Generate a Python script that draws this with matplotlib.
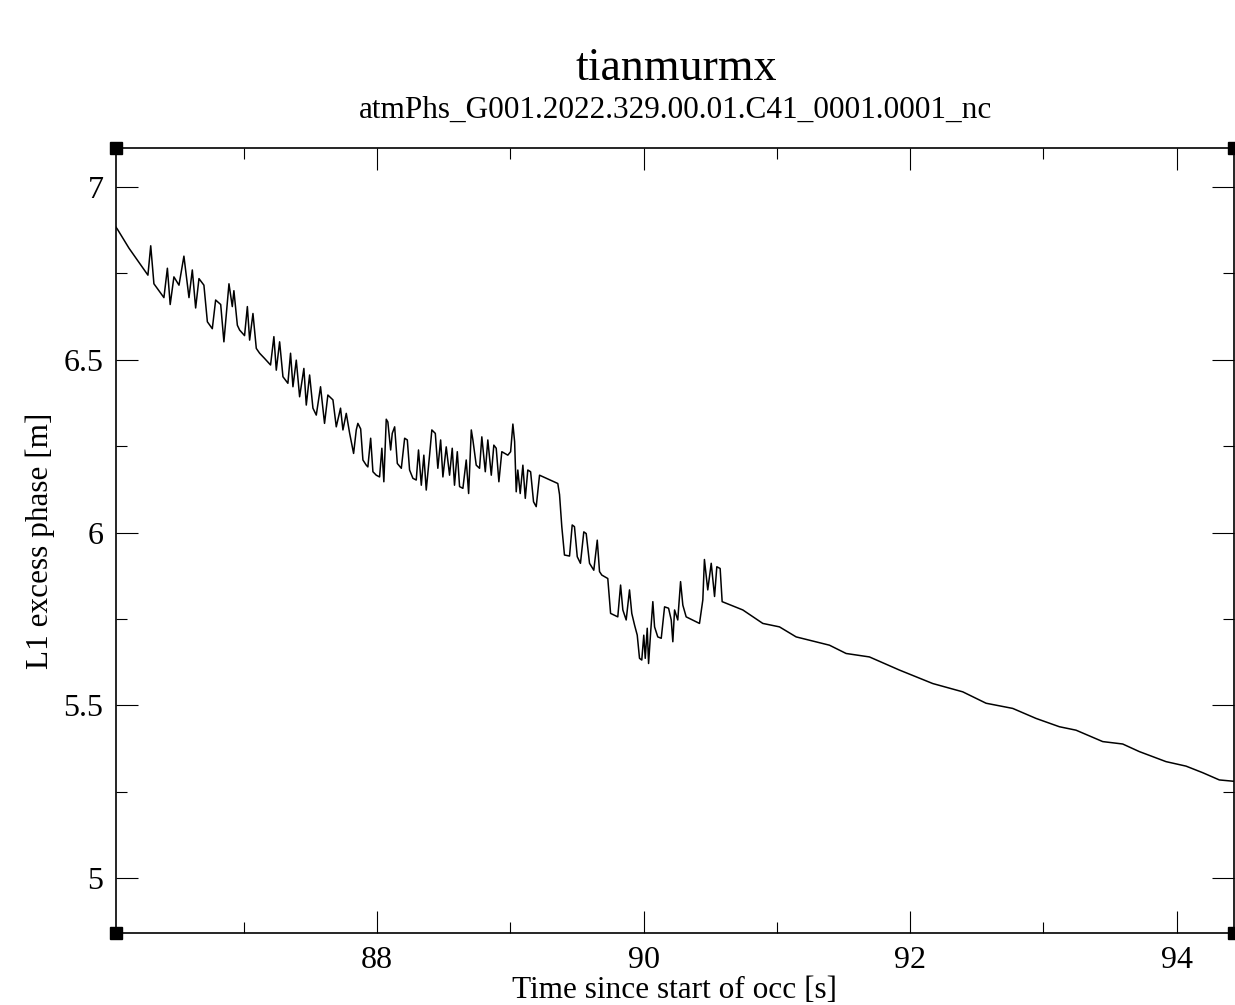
import matplotlib
matplotlib.use("Agg")
import matplotlib.pyplot as plt
from matplotlib.ticker import MultipleLocator

plt.rcParams['font.family'] = ['Liberation Serif', 'DejaVu Serif']

title = "tianmurmx"
subtitle = "atmPhs_G001.2022.329.00.01.C41_0001.0001_nc"
xlabel = "Time since start of occ [s]"
ylabel = "L1 excess phase [m]"

time_s = [
    86.040, 86.053, 86.140, 86.282, 86.303, 86.327, 86.402, 86.428, 86.449, 86.477,
    86.515, 86.552, 86.590, 86.615, 86.640, 86.665, 86.702, 86.728, 86.765, 86.790,
    86.828, 86.852, 86.890, 86.915, 86.927, 86.953, 86.970, 87.007, 87.028, 87.045,
    87.070, 87.095, 87.120, 87.157, 87.202, 87.227, 87.245, 87.270, 87.295, 87.332,
    87.352, 87.370, 87.395, 87.420, 87.452, 87.470, 87.495, 87.520, 87.545, 87.577,
    87.607, 87.632, 87.670, 87.695, 87.727, 87.745, 87.770, 87.795, 87.825, 87.845,
    87.857, 87.878, 87.895, 87.920, 87.932, 87.953, 87.970, 87.995, 88.020, 88.037,
    88.052, 88.070, 88.082, 88.103, 88.115, 88.133, 88.153, 88.183, 88.208, 88.228,
    88.245, 88.270, 88.295, 88.312, 88.333, 88.352, 88.370, 88.395, 88.412, 88.438,
    88.457, 88.478, 88.495, 88.520, 88.545, 88.565, 88.582, 88.603, 88.620, 88.645,
    88.670, 88.688, 88.708, 88.720, 88.745, 88.770, 88.787, 88.813, 88.832, 88.858,
    88.877, 88.895, 88.915, 88.937, 88.982, 89.003, 89.020, 89.033, 89.045, 89.057,
    89.075, 89.095, 89.113, 89.132, 89.153, 89.175, 89.195, 89.220, 89.357, 89.370,
    89.387, 89.407, 89.445, 89.465, 89.482, 89.503, 89.527, 89.552, 89.570, 89.595,
    89.627, 89.653, 89.670, 89.687, 89.732, 89.753, 89.807, 89.828, 89.845, 89.870,
    89.895, 89.912, 89.933, 89.953, 89.970, 89.987, 90.002, 90.013, 90.028, 90.038,
    90.053, 90.070, 90.083, 90.107, 90.133, 90.158, 90.188, 90.208, 90.220, 90.233,
    90.257, 90.278, 90.295, 90.320, 90.420, 90.445, 90.457, 90.482, 90.508, 90.533,
    90.550, 90.575, 90.590, 90.745, 90.895, 91.020, 91.145, 91.395, 91.520, 91.695,
    91.920, 92.170, 92.395, 92.570, 92.770, 92.945, 93.120, 93.245, 93.445, 93.595,
    93.720, 93.920, 94.070, 94.195, 94.320, 94.432,
]

phase_m = [
    6.885, 6.878, 6.823, 6.745, 6.830, 6.720, 6.680, 6.765, 6.660, 6.740,
    6.716, 6.800, 6.680, 6.760, 6.650, 6.735, 6.716, 6.610, 6.590, 6.673,
    6.660, 6.552, 6.720, 6.654, 6.700, 6.600, 6.586, 6.570, 6.654, 6.557,
    6.634, 6.533, 6.519, 6.504, 6.485, 6.567, 6.470, 6.552, 6.451, 6.432,
    6.519, 6.422, 6.499, 6.393, 6.475, 6.369, 6.456, 6.360, 6.340, 6.422,
    6.316, 6.398, 6.384, 6.306, 6.360, 6.297, 6.345, 6.288, 6.229, 6.297,
    6.316, 6.300, 6.210, 6.195, 6.190, 6.273, 6.176, 6.166, 6.161, 6.244,
    6.147, 6.328, 6.320, 6.239, 6.287, 6.306, 6.200, 6.186, 6.273, 6.268,
    6.181, 6.157, 6.152, 6.239, 6.137, 6.224, 6.123, 6.224, 6.297, 6.287,
    6.186, 6.268, 6.161, 6.248, 6.166, 6.244, 6.137, 6.234, 6.133, 6.128,
    6.210, 6.113, 6.297, 6.268, 6.195, 6.186, 6.277, 6.176, 6.268, 6.166,
    6.253, 6.244, 6.147, 6.234, 6.224, 6.234, 6.314, 6.263, 6.118, 6.181,
    6.113, 6.195, 6.099, 6.181, 6.176, 6.089, 6.075, 6.166, 6.142, 6.110,
    6.017, 5.935, 5.932, 6.022, 6.017, 5.930, 5.911, 6.002, 5.997, 5.911,
    5.891, 5.978, 5.887, 5.877, 5.867, 5.766, 5.756, 5.848, 5.776, 5.747,
    5.834, 5.766, 5.732, 5.703, 5.636, 5.631, 5.703, 5.636, 5.723, 5.621,
    5.708, 5.800, 5.727, 5.698, 5.694, 5.785, 5.781, 5.747, 5.684, 5.776,
    5.747, 5.858, 5.790, 5.756, 5.737, 5.805, 5.922, 5.834, 5.911, 5.815,
    5.901, 5.896, 5.800, 5.776, 5.737, 5.727, 5.698, 5.674, 5.650, 5.640,
    5.602, 5.563, 5.539, 5.506, 5.491, 5.462, 5.438, 5.428, 5.395, 5.388,
    5.366, 5.337, 5.324, 5.305, 5.284, 5.280,
]

fig = plt.figure(figsize=(12.35, 10.05), dpi=100)
ax = fig.add_axes([116 / 1235, 1 - 933 / 1005, (1234 - 116) / 1235, (933 - 148) / 1005])

ax.plot(time_s, phase_m, color='black', linewidth=1.1)

ax.set_xlim(86.0425, 94.43)
ax.set_ylim(4.841, 7.113)

ax.xaxis.set_major_locator(MultipleLocator(2))
ax.xaxis.set_minor_locator(MultipleLocator(1))
ax.yaxis.set_major_locator(MultipleLocator(0.5))
ax.yaxis.set_minor_locator(MultipleLocator(0.25))

ax.tick_params(which='both', direction='in', top=True, right=True, width=0.8, color='black')
ax.tick_params(which='major', length=16, labelsize=23, pad=9)
ax.tick_params(which='minor', length=8)
ax.set_yticks([5, 5.5, 6, 6.5, 7])
ax.set_yticklabels(['5', '5.5', '6', '6.5', '7'])

for s in ax.spines.values():
    s.set_linewidth(1.2)
    s.set_color('black')

ax.set_xlabel(xlabel, fontsize=22.5, labelpad=1)
ax.set_ylabel(ylabel, fontsize=22.5, labelpad=6)

fig.text(676 / 1235, 1 - 80 / 1005, title, ha='center', va='baseline', fontsize=33)
fig.text(676 / 1235, 1 - 118 / 1005, subtitle, ha='center', va='baseline', fontsize=22.5)

# corner selection handles
ax.plot([0, 0, 1, 1], [0, 1, 0, 1], 's', color='black', markersize=8,
        transform=ax.transAxes, clip_on=False)

fig.savefig('out.png', dpi=100, facecolor='white')
